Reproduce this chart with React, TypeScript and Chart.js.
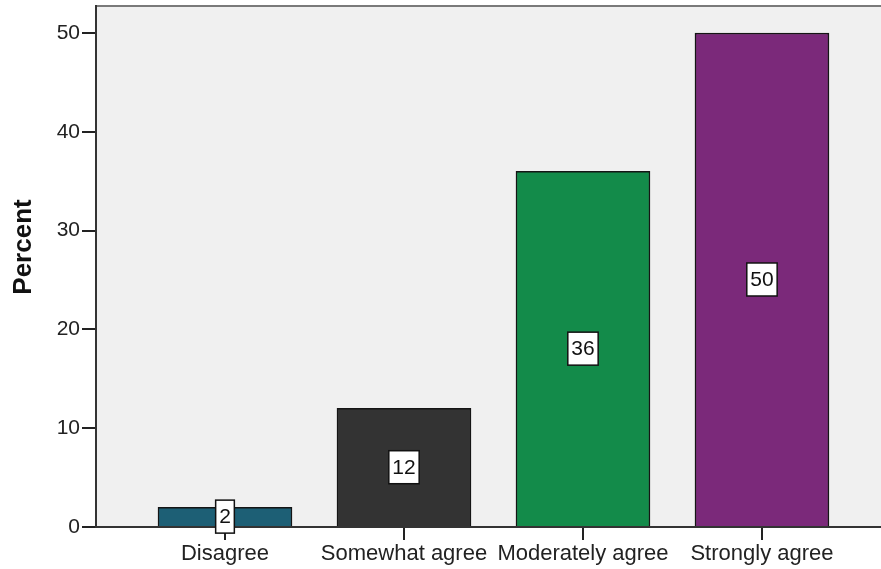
import React, { useEffect, useRef } from "react";
import { Chart, registerables } from "chart.js";

Chart.register(...registerables);

const categories = ["Disagree", "Somewhat agree", "Moderately agree", "Strongly agree"];
const percents = [2, 12, 36, 50];
const barColors = ["#1d5f75", "#333333", "#138b4a", "#7b297a"];
const yTicks = [0, 10, 20, 30, 40, 50];
const yTitle = "Percent";

const FONT = "'Liberation Sans', Arial, sans-serif";

const bgPlugin = {
  id: "plotBg",
  beforeDraw(chart: any) {
    const { ctx, chartArea: a } = chart;
    ctx.save();
    ctx.fillStyle = "#f0f0f0";
    ctx.fillRect(a.left, a.top, a.right - a.left, a.bottom - a.top);
    ctx.strokeStyle = "#7a7a7a";
    ctx.lineWidth = 2;
    ctx.beginPath();
    ctx.moveTo(a.left, a.top);
    ctx.lineTo(a.right, a.top);
    ctx.stroke();
    ctx.restore();
  },
  afterDraw(chart: any) {
    const { ctx } = chart;
    ctx.save();
    ctx.translate(24, 247);
    ctx.rotate(-Math.PI / 2);
    ctx.font = `bold 26px ${FONT}`;
    ctx.fillStyle = "#111";
    ctx.textAlign = "center";
    ctx.textBaseline = "middle";
    ctx.fillText(yTitle, 0, 0);
    ctx.restore();
  },
};

const labelPlugin = {
  id: "barLabels",
  afterDatasetsDraw(chart: any) {
    const { ctx } = chart;
    const meta = chart.getDatasetMeta(0);
    ctx.save();
    ctx.font = `21px ${FONT}`;
    ctx.textAlign = "center";
    ctx.textBaseline = "middle";
    meta.data.forEach((el: any, i: number) => {
      const txt = String(percents[i]);
      const cx = el.x;
      const cy = (el.y + el.base) / 2;
      const w = ctx.measureText(txt).width + 7;
      const h = 33;
      ctx.fillStyle = "#ffffff";
      ctx.fillRect(cx - w / 2, cy - h / 2, w, h);
      ctx.strokeStyle = "#111";
      ctx.lineWidth = 1.5;
      ctx.strokeRect(cx - w / 2, cy - h / 2, w, h);
      ctx.fillStyle = "#111";
      ctx.fillText(txt, cx, cy + 1);
    });
    ctx.restore();
  },
};

export default function App() {
  const ref = useRef<HTMLCanvasElement>(null);
  useEffect(() => {
    if (!ref.current) return;
    const chart = new Chart(ref.current, {
      type: "bar",
      data: {
        datasets: [
          {
            data: percents.map((v, i) => ({ x: i, y: v })),
            backgroundColor: barColors,
            borderColor: "#151515",
            borderWidth: 1.5,
            barThickness: 134,
          } as any,
        ],
      },
      options: {
        animation: false,
        responsive: true,
        maintainAspectRatio: false,
        layout: { padding: { top: 6, left: 0, right: 0, bottom: 0 } },
        plugins: { legend: { display: false }, tooltip: { enabled: false }, title: { display: false } },
        scales: {
          x: {
            type: "linear",
            min: -0.7207,
            max: 3.665,
            offset: false,
            afterBuildTicks(scale: any) {
              scale.ticks = categories.map((_, i) => ({ value: i }));
            },
            afterFit(scale: any) {
              scale.height = 42;
              scale.paddingLeft = 0;
              scale.paddingRight = 0;
            },
            ticks: {
              callback: (v: any) => categories[v as number] ?? "",
              font: { family: FONT, size: 22 },
              color: "#222",
              padding: 1,
              maxRotation: 0,
              autoSkip: false,
            },
            grid: {
              offset: false,
              drawOnChartArea: false,
              drawTicks: true,
              tickLength: 13,
              tickColor: "#222",
              lineWidth: 2,
            },
            border: { display: true, color: "#333", width: 2 },
          },
          y: {
            min: 0,
            max: 52.73,
            afterBuildTicks(scale: any) {
              scale.ticks = yTicks.map((v) => ({ value: v }));
            },
            afterFit(scale: any) {
              scale.width = 96;
              scale.paddingTop = 0;
              scale.paddingBottom = 0;
            },
            ticks: {
              font: { family: FONT, size: 21 },
              color: "#222",
              padding: 2,
            },
            grid: {
              drawOnChartArea: false,
              drawTicks: true,
              tickLength: 14,
              tickColor: "#222",
              lineWidth: 2,
            },
            border: { display: true, color: "#333", width: 2 },
          },
        },
      } as any,
      plugins: [bgPlugin, labelPlugin],
    });
    return () => chart.destroy();
  }, []);
  return (
    <div style={{ position: "absolute", left: 0, top: 0, width: 881, height: 569, background: "#fff" }}>
      <canvas ref={ref} />
    </div>
  );
}
